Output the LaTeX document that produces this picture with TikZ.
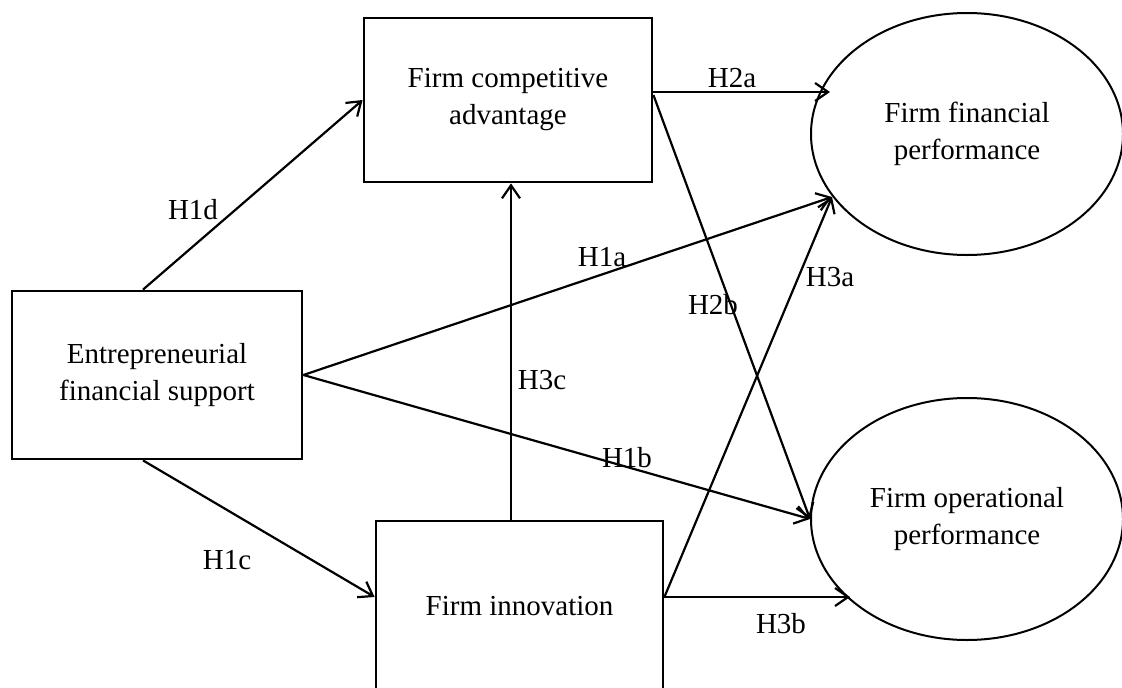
\documentclass[tikz,border=0pt]{standalone}
\usepackage{fontspec}
\setmainfont{Liberation Serif}
\usetikzlibrary{arrows.meta,shapes.geometric,calc}
\begin{document}
\begin{tikzpicture}[x=1pt,y=-1pt,
  txt/.style={font=\fontsize{29}{37}\selectfont},
  box/.style={draw,line width=2.8pt,inner sep=0pt,align=center,txt},
  oval/.style={draw,ellipse,line width=2pt,inner sep=0pt,align=center,txt,minimum width=312pt,minimum height=242pt},
  conn/.style={line width=2.2pt,-{Straight Barb[length=13pt,width=18pt,line width=2.2pt]}},
  lbl/.style={txt,inner sep=0pt}]
\useasboundingbox (0,0) rectangle (1122,688);
\clip (0,0) rectangle (1122,688);
\fill[white] (0,0) rectangle (1122,688);
\node[box,minimum width=290pt,minimum height=168pt] (efs) at (157,375) {Entrepreneurial\\financial support};
\node[box,minimum width=288pt,minimum height=164pt] (fca) at (508,100) {Firm competitive\\advantage};
\node[box,minimum width=287pt,minimum height=170pt] (fi) at (519.5,606) {Firm innovation};
\node[oval] (ff) at (967,134) {Firm financial\\performance};
\node[oval] (fo) at (967,519) {Firm operational\\performance};
% connectors
\draw[conn] ([xshift=-14pt]efs.north) -- (fca.west);
\draw[conn] ([xshift=-14pt]efs.south) -- ([yshift=9pt]fi.west);
\draw[conn] (efs.east) -- ($(ff.center)+(-135,63)$);
\draw[conn] (efs.east) -- (fo.west);
\draw[conn] ([yshift=8pt]fca.east) -- ($(ff.center)+(-137,-42)$);
\draw[conn] ([yshift=5pt]fca.east) -- (fo.west);
\draw[conn] ([yshift=9pt]fi.east) -- ($(ff.center)+(-135,63)$);
\draw[conn] ([yshift=9pt]fi.east) -- ($(fo.center)+(-117,78)$);
\draw[conn] ([xshift=-8.5pt]fi.north) -- ([xshift=3pt]fca.south);
% labels
\node[lbl] (l1d) at (193,210) {H1d};
\node[lbl] (l1c) at (227,560) {H1c};
\node[lbl] (l1a) at (602,257) {H1a};
\node[lbl] (l1b) at (627,458) {H1b};
\node[lbl] (l2a) at (732,78) {H2a};
\node[lbl] (l2b) at (713,305) {H2b};
\node[lbl] (l3a) at (830,277) {H3a};
\node[lbl] (l3b) at (781,624) {H3b};
\node[lbl] (l3c) at (542,380) {H3c};
\end{tikzpicture}
\end{document}
